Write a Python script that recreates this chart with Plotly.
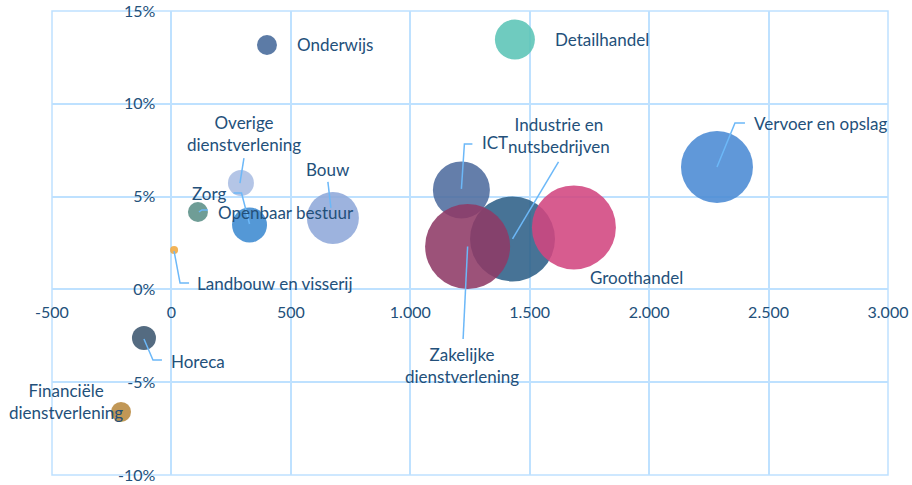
import plotly.graph_objects as go

# ---- data ----
sectors = ["Onderwijs", "Detailhandel", "Vervoer en opslag", "ICT",
           "Industrie en nutsbedrijven", "Zakelijke dienstverlening", "Groothandel",
           "Bouw", "Overige dienstverlening", "Openbaar bestuur", "Zorg",
           "Landbouw en visserij", "Horeca", "Financiële dienstverlening"]
x_values = [400, 1438, 2284, 1214, 1428, 1240, 1685, 676, 291, 111, 327, 11, -115, -211]
y_values = [13.17, 13.46, 6.59, 5.36, 2.72, 2.31, 3.34, 3.85, 5.73, 4.17, 3.47, 2.12, -2.62, -6.6]
size_values = [100, 400, 1296, 812, 1806, 1806, 1764, 676, 169, 100, 306, 16, 144, 100]
colors = ["#46699A", "#5BC4B6", "#4A8AD4", "#4E6C9E", "#2E6088", "#8E3A66", "#D2457F",
          "#8FA8D9", "#AABDE3", "#5B8F88", "#3C8AD0", "#F0A840", "#3C5670", "#B8893F"]

x_tickvals = [-500, 0, 500, 1000, 1500, 2000, 2500, 3000]
x_ticktext = ["-500", "0", "500", "1.000", "1.500", "2.000", "2.500", "3.000"]
y_tickvals = [-10, -5, 0, 5, 10, 15]
y_ticktext = ["-10%", "-5%", "0%", "5%", "10%", "15%"]

label_texts = ["Onderwijs", "Detailhandel", "Vervoer en opslag", "ICT",
               "Industrie en<br>nutsbedrijven", "Zakelijke<br>dienstverlening", "Groothandel",
               "Bouw", "Overige<br>dienstverlening", "Openbaar bestuur", "Zorg",
               "Landbouw en visserij", "Horeca", "Financiële<br>dienstverlening"]

# label placement (pixel offsets from bubble centre, y positive = up) and alignment
label_dx = [28, 38, 35, 18.5, 46.5, -5.5, 62.5, -5, 3, 18, -40.5, 21, 25, -55.5]
label_dy = [0, 0, 44, 47, 103.5, -119, -50.5, 48, 50, 0, 32, -33, -23, 10]
label_anchor = ["left", "left", "left", "left", "center", "center", "center",
                "center", "center", "left", "center", "left", "left", "center"]
# leader lines (pixel paths relative to bubble centre, y up); None = no leader
leaders = [None, None, "M0,0 L18,44 L28,44", "M0,1 L3,46 L11,46", "M0,0 L46,77",
           "M0,0 L-4.5,-92.5", None, "M-2,10 L-5,36", "M-1,0 L3,25", "M1,0 L4,2 L10,2",
           "M0,1 L-8,32 L-16,32", "M0,-1 L6,-33 L15,-33", "M0,-1 L9,-22 L18,-22", None]

TEXT = "#23507A"
GRID = "#BEE1FF"
LEADER = "#6CB8F8"
FONT = "Lato"

fig = go.Figure()
fig.add_trace(go.Scatter(
    x=x_values, y=y_values, mode="markers", text=sectors,
    hovertemplate="%{text}<br>%{x}<br>%{y}%<extra></extra>",
    marker=dict(size=size_values, sizemode="area", sizeref=0.5, color=colors,
                opacity=0.88, line=dict(width=0)),
    showlegend=False,
))

for i in range(len(sectors)):
    fig.add_annotation(x=x_values[i], y=y_values[i], text=label_texts[i],
                       showarrow=False, xshift=label_dx[i], yshift=label_dy[i],
                       xanchor=label_anchor[i], yanchor="middle", align="center",
                       font=dict(family=FONT, size=17, color=TEXT))
    if leaders[i]:
        fig.add_shape(type="path", xref="x", yref="y", xsizemode="pixel", ysizemode="pixel",
                      xanchor=x_values[i], yanchor=y_values[i], path=leaders[i],
                      line=dict(color=LEADER, width=1.5))

fig.add_shape(type="rect", xref="paper", yref="paper", x0=0, x1=1, y0=0, y1=1,
              line=dict(color=GRID, width=1.5), layer="below")

fig.update_layout(
    width=912, height=485, autosize=False,
    margin=dict(l=52, r=24, t=11, b=10, autoexpand=False),
    paper_bgcolor="white", plot_bgcolor="white",
    font=dict(family=FONT, size=16, color=TEXT),
    xaxis=dict(range=[-500, 3000], tickvals=x_tickvals, ticktext=x_ticktext,
               showgrid=True, gridcolor=GRID, gridwidth=1.5,
               zeroline=True, zerolinecolor=GRID, zerolinewidth=1.5,
               showline=False, anchor="free", position=0.4, automargin=False,
               ticks="", ticklabelstandoff=12, domain=[0, 1], ticklabeloverflow="allow",
               tickfont=dict(family=FONT, size=16, color=TEXT)),
    yaxis=dict(range=[-10, 15], tickvals=y_tickvals, ticktext=y_ticktext,
               showgrid=True, gridcolor=GRID, gridwidth=1.5,
               zeroline=True, zerolinecolor=GRID, zerolinewidth=1.5,
               showline=False, anchor="free", position=500 / 3500, automargin=False,
               ticks="", ticklabelstandoff=16, domain=[0, 1], ticklabeloverflow="allow",
               tickfont=dict(family=FONT, size=16, color=TEXT)),
)

fig.write_html("out.html", config={"displayModeBar": False},
               post_script="document.body.style.margin='0';")
